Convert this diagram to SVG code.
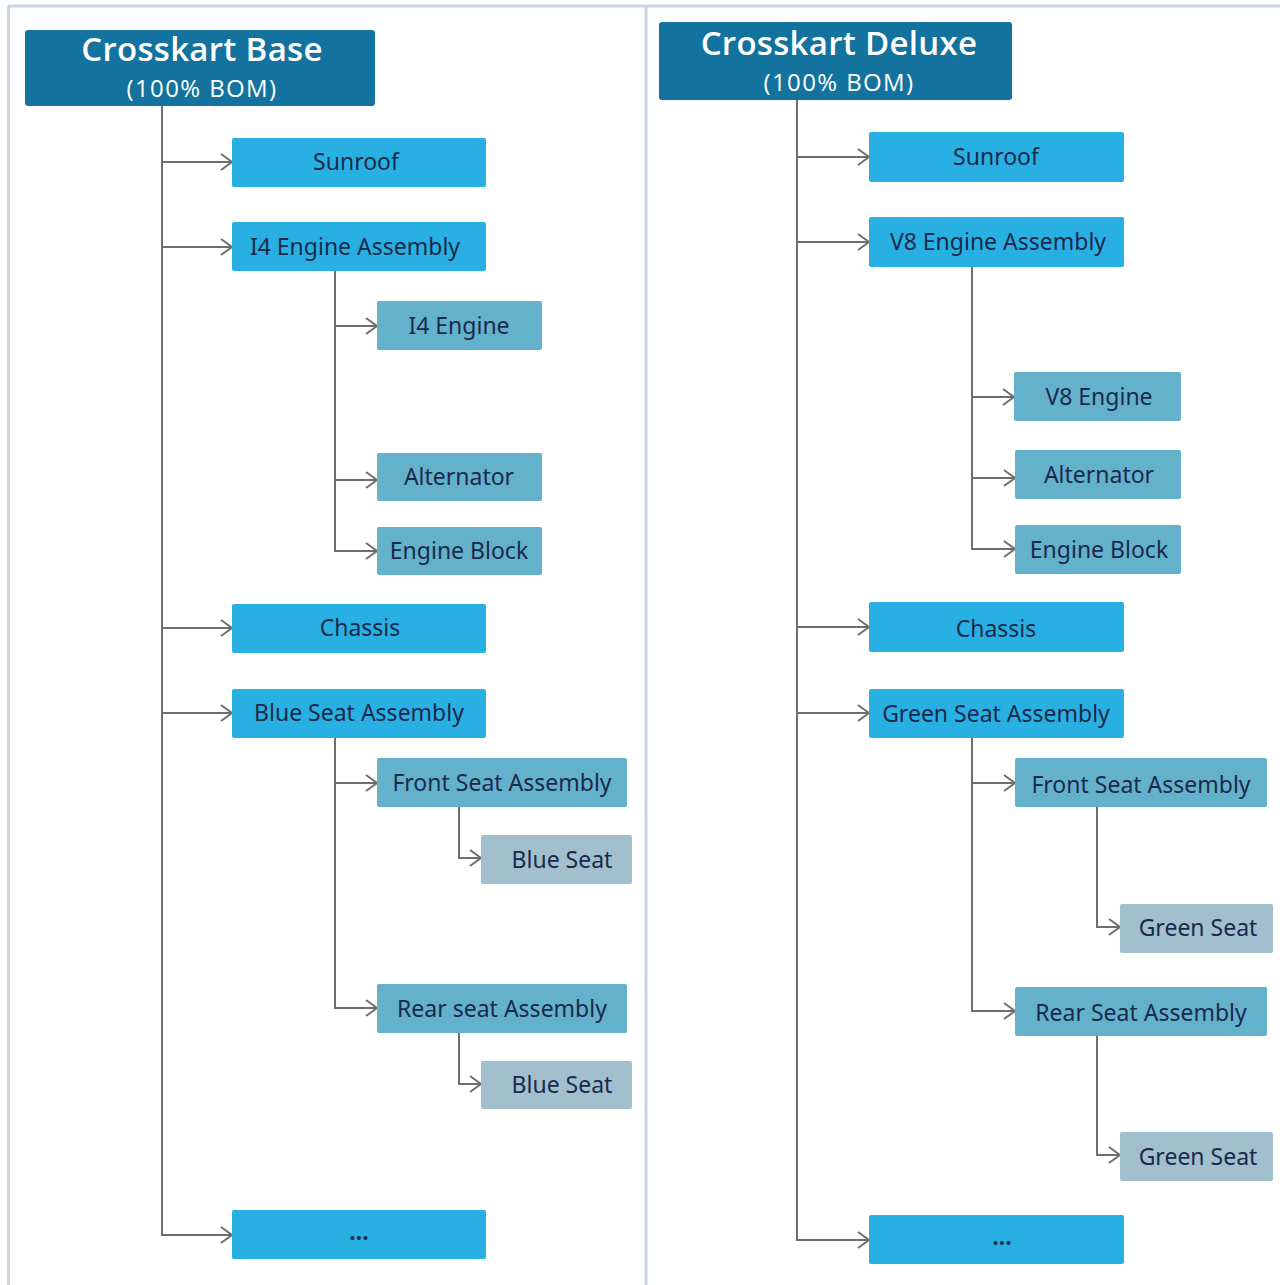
<svg xmlns="http://www.w3.org/2000/svg" width="1280" height="1285" viewBox="0 0 1280 1285">
<defs>
<marker id="arr" markerUnits="userSpaceOnUse" markerWidth="14" markerHeight="18" refX="12" refY="9" orient="auto">
<path d="M1,1 L12,9 L1,17" fill="none" stroke="#6e6e6e" stroke-width="2"/>
</marker>
</defs>
<style>
.frame{stroke:#c9d6e1;stroke-width:3;fill:none}
.root{fill:#13739e}
.l1{fill:#29b0e3}
.l2{fill:#63b1cb}
.l3{fill:#a1bfcc}
.rt{font-family:"Open Sans","Noto Sans",sans-serif;fill:#ffffff;text-anchor:middle}
.t1{font-size:33px;font-weight:600;letter-spacing:0.3px}
.t2{font-size:24px;letter-spacing:1.4px}
.lbl{font-family:"Noto Sans","Open Sans",sans-serif;font-size:23px;fill:#1b2a4c;text-anchor:middle}
.ln{stroke:#6e6e6e;stroke-width:2;fill:none}
.ar{stroke:#6e6e6e;stroke-width:2;fill:none;marker-end:url(#arr)}
</style>
<rect width="1280" height="1285" fill="#ffffff"/>
<g id="frame">
<line class="frame" x1="8" y1="6" x2="1280" y2="6"/>
<line class="frame" x1="8.5" y1="6" x2="8.5" y2="1285"/>
<line class="frame" x1="646" y1="6" x2="646" y2="1285"/>
</g>
<g id="connectors">
<line class="ln" x1="162" y1="106" x2="162" y2="1235"/>
<line class="ar" x1="162" y1="162" x2="232" y2="162"/>
<line class="ar" x1="162" y1="247" x2="232" y2="247"/>
<line class="ar" x1="162" y1="628" x2="232" y2="628"/>
<line class="ar" x1="162" y1="713" x2="232" y2="713"/>
<path class="ar" d="M162,1234 L162,1235 L232,1235"/>
<line class="ln" x1="335" y1="271" x2="335" y2="551"/>
<line class="ar" x1="335" y1="326" x2="377" y2="326"/>
<line class="ar" x1="335" y1="480" x2="377" y2="480"/>
<path class="ar" d="M335,550 L335,551 L377,551"/>
<line class="ln" x1="335" y1="738" x2="335" y2="1008"/>
<line class="ar" x1="335" y1="783" x2="377" y2="783"/>
<path class="ar" d="M335,1007 L335,1008 L377,1008"/>
<path class="ar" d="M459,807 L459,858 L481,858"/>
<path class="ar" d="M459,1033 L459,1084 L481,1084"/>
<line class="ln" x1="797" y1="100" x2="797" y2="1240"/>
<line class="ar" x1="797" y1="157" x2="869" y2="157"/>
<line class="ar" x1="797" y1="242" x2="869" y2="242"/>
<line class="ar" x1="797" y1="627" x2="869" y2="627"/>
<line class="ar" x1="797" y1="713" x2="869" y2="713"/>
<path class="ar" d="M797,1239 L797,1240 L869,1240"/>
<line class="ln" x1="972" y1="267" x2="972" y2="549"/>
<line class="ar" x1="972" y1="397" x2="1014" y2="397"/>
<line class="ar" x1="972" y1="478" x2="1015" y2="478"/>
<path class="ar" d="M972,548 L972,549 L1015,549"/>
<line class="ln" x1="972" y1="738" x2="972" y2="1011"/>
<line class="ar" x1="972" y1="783" x2="1015" y2="783"/>
<path class="ar" d="M972,1010 L972,1011 L1015,1011"/>
<path class="ar" d="M1097,807 L1097,927 L1120,927"/>
<path class="ar" d="M1097,1036 L1097,1155 L1120,1155"/>
</g>
<g id="base-root"><rect class="root" x="25" y="30" width="350" height="76" rx="3"/><text class="rt t1" x="202" y="61">Crosskart Base</text><text class="rt t2" x="202" y="97">(100% BOM)</text></g>
<g id="base-sunroof"><rect class="l1" x="232" y="138" width="254" height="49" rx="2"/><text class="lbl" x="356" y="170">Sunroof</text></g>
<g id="base-i4asm"><rect class="l1" x="232" y="222" width="254" height="49" rx="2"/><text class="lbl" x="355" y="255">I4 Engine Assembly</text></g>
<g id="base-i4eng"><rect class="l2" x="377" y="301" width="165" height="49" rx="2"/><text class="lbl" x="459" y="334">I4 Engine</text></g>
<g id="base-alt"><rect class="l2" x="377" y="453" width="165" height="48" rx="2"/><text class="lbl" x="459" y="485">Alternator</text></g>
<g id="base-block"><rect class="l2" x="377" y="527" width="165" height="48" rx="2"/><text class="lbl" x="459" y="559">Engine Block</text></g>
<g id="base-chassis"><rect class="l1" x="232" y="604" width="254" height="49" rx="2"/><text class="lbl" x="360" y="636">Chassis</text></g>
<g id="base-seatasm"><rect class="l1" x="232" y="689" width="254" height="49" rx="2"/><text class="lbl" x="359" y="721">Blue Seat Assembly</text></g>
<g id="base-front"><rect class="l2" x="377" y="758" width="250" height="49" rx="2"/><text class="lbl" x="502" y="791">Front Seat Assembly</text></g>
<g id="base-blue1"><rect class="l3" x="481" y="835" width="151" height="49" rx="2"/><text class="lbl" x="562" y="868">Blue Seat</text></g>
<g id="base-rear"><rect class="l2" x="377" y="984" width="250" height="49" rx="2"/><text class="lbl" x="502" y="1017">Rear seat Assembly</text></g>
<g id="base-blue2"><rect class="l3" x="481" y="1061" width="151" height="48" rx="2"/><text class="lbl" x="562" y="1093">Blue Seat</text></g>
<g id="base-more"><rect class="l1" x="232" y="1210" width="254" height="49" rx="2"/><text class="lbl" x="359" y="1240" font-weight="bold">...</text></g>
<g id="deluxe-root"><rect class="root" x="659" y="22" width="353" height="78" rx="3"/><text class="rt t1" x="839" y="55">Crosskart Deluxe</text><text class="rt t2" x="839" y="91">(100% BOM)</text></g>
<g id="deluxe-sunroof"><rect class="l1" x="869" y="132" width="255" height="50" rx="2"/><text class="lbl" x="996" y="165">Sunroof</text></g>
<g id="deluxe-v8asm"><rect class="l1" x="869" y="217" width="255" height="50" rx="2"/><text class="lbl" x="998" y="250">V8 Engine Assembly</text></g>
<g id="deluxe-v8eng"><rect class="l2" x="1014" y="372" width="167" height="49" rx="2"/><text class="lbl" x="1099" y="405">V8 Engine</text></g>
<g id="deluxe-alt"><rect class="l2" x="1015" y="450" width="166" height="49" rx="2"/><text class="lbl" x="1099" y="483">Alternator</text></g>
<g id="deluxe-block"><rect class="l2" x="1015" y="525" width="166" height="49" rx="2"/><text class="lbl" x="1099" y="558">Engine Block</text></g>
<g id="deluxe-chassis"><rect class="l1" x="869" y="602" width="255" height="50" rx="2"/><text class="lbl" x="996" y="637">Chassis</text></g>
<g id="deluxe-seatasm"><rect class="l1" x="869" y="689" width="255" height="49" rx="2"/><text class="lbl" x="996" y="722">Green Seat Assembly</text></g>
<g id="deluxe-front"><rect class="l2" x="1015" y="758" width="252" height="49" rx="2"/><text class="lbl" x="1141" y="793">Front Seat Assembly</text></g>
<g id="deluxe-green1"><rect class="l3" x="1120" y="904" width="153" height="49" rx="2"/><text class="lbl" x="1198" y="936">Green Seat</text></g>
<g id="deluxe-rear"><rect class="l2" x="1015" y="987" width="252" height="49" rx="2"/><text class="lbl" x="1141" y="1021">Rear Seat Assembly</text></g>
<g id="deluxe-green2"><rect class="l3" x="1120" y="1132" width="153" height="49" rx="2"/><text class="lbl" x="1198" y="1165">Green Seat</text></g>
<g id="deluxe-more"><rect class="l1" x="869" y="1215" width="255" height="49" rx="2"/><text class="lbl" x="1002" y="1245" font-weight="bold">...</text></g>
</svg>
